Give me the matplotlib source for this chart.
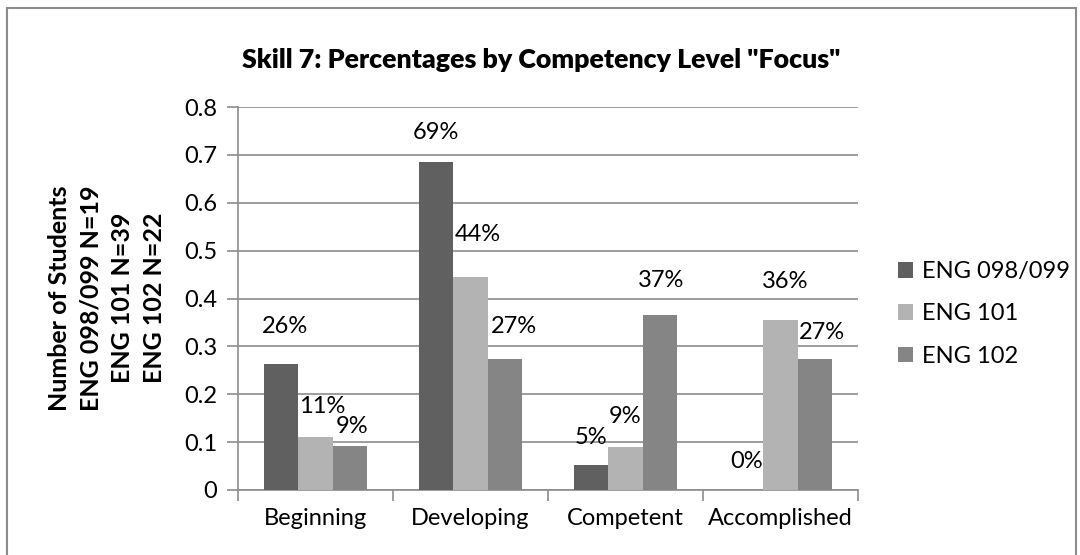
import numpy as np
import matplotlib.pyplot as plt
from matplotlib.patches import Rectangle

categories = ['Beginning', 'Developing', 'Competent', 'Accomplished']
series_names = ['ENG 098/099', 'ENG 101', 'ENG 102']
eng_098 = [0.263, 0.686, 0.053, 0.0]
eng_101 = [0.111, 0.444, 0.089, 0.356]
eng_102 = [0.091, 0.273, 0.366, 0.273]
y_ticks = [0, 0.1, 0.2, 0.3, 0.4, 0.5, 0.6, 0.7, 0.8]
y_tick_labels = ['0', '0.1', '0.2', '0.3', '0.4', '0.5', '0.6', '0.7', '0.8']

# décalage des étiquettes (pixels : dx, écart au-dessus de la barre), par série
label_nudge = [
    [(4, 27), (0, 19), (0, 17), (0, 18)],
    [(7, 20), (7, 32), (0, 20), (5, 28)],
    [(2, 9), (9, 22), (2, 24), (7, 16)],
]

colors = ['#606060', '#b3b3b3', '#858585']
grid_col = '#8c8c8c'

plt.rcParams['font.family'] = ['Lato', 'DejaVu Sans']

fig = plt.figure(figsize=(10.8, 5.55), dpi=100)
ax = fig.add_axes([238 / 1080, 65 / 555, 620 / 1080, 383 / 555])

# cadre extérieur
fig.patches.append(Rectangle((7 / 1080, -0.05), 1069 / 1080, 1.05 - 8 / 555,
                             transform=fig.transFigure, fill=False,
                             edgecolor='#8c8c8c', linewidth=1.5))

x = np.arange(len(categories))
width = 0.22
all_series = [eng_098, eng_101, eng_102]
for i, (vals, name) in enumerate(zip(all_series, series_names)):
    pos = x + (i - 1) * width
    bars = ax.bar(pos, vals, width, color=colors[i], label=name, zorder=3)
    for j, (b, v) in enumerate(zip(bars, vals)):
        dx, dy = label_nudge[i][j]
        ax.annotate(f'{v:.0%}', (b.get_x() + b.get_width() / 2, v),
                    xytext=(dx * 0.72, dy * 0.72), textcoords='offset points',
                    ha='center', va='bottom', fontsize=17)

ax.set_xlim(-0.5, 3.5)
ax.set_ylim(0, 0.8)
ax.set_yticks(y_ticks)
ax.set_yticklabels(y_tick_labels, fontsize=17)
ax.set_xticks(x)
ax.set_xticklabels(categories, fontsize=17)
ax.set_xticks(np.arange(-0.5, 4, 1), minor=True)
ax.tick_params(axis='x', which='major', length=0, pad=13)
ax.tick_params(axis='x', which='minor', length=8, color=grid_col, width=1.2)
ax.tick_params(axis='y', length=8, color=grid_col, width=1.2, pad=7)
ax.yaxis.grid(True, color=grid_col, linewidth=1.2, zorder=0)
ax.set_axisbelow(True)
for s in ['top', 'right']:
    ax.spines[s].set_visible(False)
for s in ['left', 'bottom']:
    ax.spines[s].set_color(grid_col)
    ax.spines[s].set_linewidth(1.2)

fig.text(107 / 1080, 1 - 298 / 555,
         'Number of Students\nENG 098/099 N=19\nENG 101 N=39\nENG 102 N=22',
         rotation=90, ha='center', va='center', fontsize=18,
         fontweight='bold', linespacing=1.45)

fig.text(541 / 1080, 1 - 60 / 555,
         'Skill 7: Percentages by Competency Level "Focus"',
         ha='center', va='center', fontsize=19.3, fontweight='heavy')

ax.legend(loc='center left', bbox_to_anchor=(898 / 1080, 1 - 314 / 555),
          bbox_transform=fig.transFigure, frameon=False, borderpad=0,
          borderaxespad=0, fontsize=17, handlelength=0.65, handleheight=0.65,
          labelspacing=0.9, handletextpad=0.35)

fig.savefig('out.png', dpi=100)
